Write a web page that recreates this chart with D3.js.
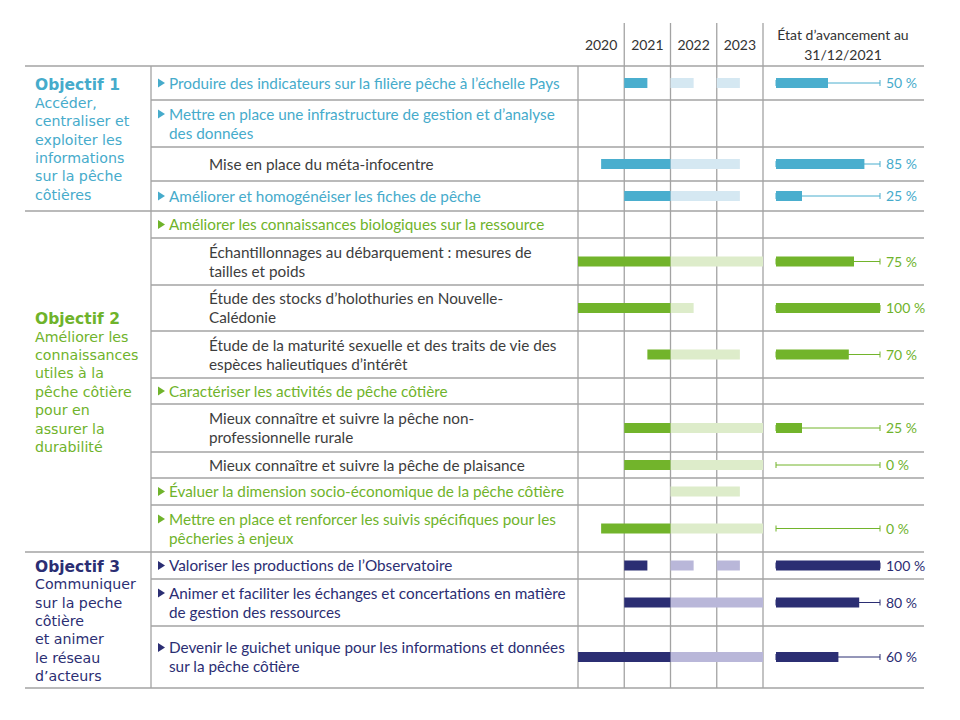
<!DOCTYPE html>
<html><head><meta charset="utf-8">
<script src="https://cdn.jsdelivr.net/npm/d3@7"></script>
<style>body{margin:0;background:#fff}</style>
</head><body><svg id="c" width="960" height="720"></svg>
<script>
// ---------- DATA ----------
const years = ["2020", "2021", "2022", "2023"];
const progressTitle = ["État d’avancement au", "31/12/2021"];
const objectiveTitles = ["Objectif 1", "Objectif 2", "Objectif 3"];
const objectiveLines = [
  ["Accéder,", "centraliser et", "exploiter les", "informations", "sur la pêche", "côtières"],
  ["Améliorer les", "connaissances", "utiles à la", "pêche côtière", "pour en", "assurer la", "durabilité"],
  ["Communiquer", "sur la peche", "côtière", "et animer", "le réseau", "d’acteurs"]
];
const taskLabels = [
  ["Produire des indicateurs sur la filière pêche à l’échelle Pays"],
  ["Mettre en place une infrastructure de gestion et d’analyse", "des données"],
  ["Mise en place du méta-infocentre"],
  ["Améliorer et homogénéiser les fiches de pêche"],
  ["Améliorer les connaissances biologiques sur la ressource"],
  ["Échantillonnages au débarquement : mesures de", "tailles et poids"],
  ["Étude des stocks d’holothuries en Nouvelle-", "Calédonie"],
  ["Étude de la maturité sexuelle et des traits de vie des", "espèces halieutiques d’intérêt"],
  ["Caractériser les activités de pêche côtière"],
  ["Mieux connaître et suivre la pêche non-", "professionnelle rurale"],
  ["Mieux connaître et suivre la pêche de plaisance"],
  ["Évaluer la dimension socio-économique de la pêche côtière"],
  ["Mettre en place et renforcer les suivis spécifiques pour les", "pêcheries à enjeux"],
  ["Valoriser les productions de l’Observatoire"],
  ["Animer et faciliter les échanges et concertations en matière", "de gestion des ressources"],
  ["Devenir le guichet unique pour les informations et données", "sur la pêche côtière"]
];
const taskLevel = [1, 1, 2, 1, 1, 2, 2, 2, 1, 2, 2, 1, 1, 1, 1, 1];
const taskObjective = [0, 0, 0, 0, 1, 1, 1, 1, 1, 1, 1, 1, 1, 2, 2, 2];
// achieved period (dark) per task
const doneSpans = [
  [[2021, 2021.5]], [], [[2020.5, 2022]], [[2021, 2022]],
  [], [[2020, 2022]], [[2020, 2022]], [[2021.5, 2022]],
  [], [[2021, 2022]], [[2021, 2022]], [],
  [[2020.5, 2022]], [[2021, 2021.5]], [[2021, 2022]], [[2020, 2022]]
];
// planned period (light) per task
const plannedSpans = [
  [[2022, 2022.5], [2023, 2023.5]], [], [[2022, 2023.5]], [[2022, 2023.5]],
  [], [[2022, 2024]], [[2022, 2022.5]], [[2022, 2023.5]],
  [], [[2022, 2024]], [[2022, 2024]], [[2022, 2023.5]],
  [[2022, 2024]], [[2022, 2022.5], [2023, 2023.5]], [[2022, 2024]], [[2022, 2024]]
];
const progress = [50, null, 85, 25, null, 75, 100, 70, null, 25, 0, null, 0, 100, 80, 60];

// ---------- STYLE / LAYOUT ----------
const darkColor = ["#4aaece", "#72b42b", "#2b2e73"];
const lightColor = ["#d5e8f2", "#ddecca", "#b9b7d9"];
const textColor = ["#46abcb", "#6fb32b", "#2b2e73"];
const subTextColor = "#3d3d3d";
const gridColor = "#a3a3a3";
const rowHeights = [34, 47, 34, 30, 27, 47, 46, 47, 26, 48, 26, 27, 47, 27, 47, 62];
const L = {left: 25, col1: 151, right: 924, top: 66, headTop: 23};
const font = "Lato, 'Open Sans', sans-serif";
const titleFont = "'DejaVu Sans', Lato, sans-serif";

const svg = d3.select("#c");
const x = d3.scaleLinear().domain([2020, 2024]).range([578, 763]);
const px = d3.scaleLinear().domain([0, 100]).range([776, 880]);

const rowTops = [L.top];
rowHeights.forEach(h => rowTops.push(rowTops[rowTops.length - 1] + h));
const bottom = rowTops[rowTops.length - 1];
const rowCenter = i => (rowTops[i] + rowTops[i + 1]) / 2;

// ---------- GRID ----------
const g = svg.append("g");
rowTops.forEach((y, i) => {
  const fullWidth = i === 0 || i === rowTops.length - 1 ||
    (i < taskObjective.length && taskObjective[i] !== taskObjective[i - 1]);
  g.append("line").attr("x1", fullWidth ? L.left : L.col1).attr("x2", L.right)
    .attr("y1", y).attr("y2", y).attr("stroke", gridColor).attr("stroke-width", 1.3);
});
g.append("line").attr("x1", L.col1).attr("x2", L.col1).attr("y1", L.top).attr("y2", bottom)
  .attr("stroke", gridColor).attr("stroke-width", 1.3);
const yearEdges = d3.range(2020, 2025);
yearEdges.forEach((yr, i) => {
  g.append("line").attr("x1", x(yr)).attr("x2", x(yr))
    .attr("y1", i === 0 ? L.top : L.headTop).attr("y2", bottom)
    .attr("stroke", gridColor).attr("stroke-width", 1.3);
});

// ---------- HEADER ----------
svg.append("g").selectAll("text").data(years).join("text")
  .attr("x", d => x(+d + 0.5)).attr("y", 50).attr("text-anchor", "middle")
  .attr("font-family", font).attr("font-size", 14).attr("fill", "#333").text(d => d);
svg.append("g").selectAll("text").data(progressTitle).join("text")
  .attr("x", 843).attr("y", (d, i) => 40 + i * 19.5).attr("text-anchor", "middle")
  .attr("font-family", font).attr("font-size", 14).attr("fill", "#333").text(d => d);

// ---------- OBJECTIVES (left column) ----------
objectiveTitles.forEach((t, k) => {
  const idx = taskObjective.map((o, i) => o === k ? i : -1).filter(i => i >= 0);
  const y0 = rowTops[idx[0]], y1 = rowTops[idx[idx.length - 1] + 1];
  const n = objectiveLines[k].length + 1, lh = 18.4;
  const start = (y0 + y1) / 2 - (n - 1) * lh / 2;
  const gt = svg.append("g").attr("fill", textColor[k]);
  gt.append("text").attr("x", 35).attr("y", start + 7).attr("font-family", titleFont)
    .attr("font-weight", "bold").attr("font-size", 15.5).text(t);
  objectiveLines[k].forEach((l, j) => {
    gt.append("text").attr("x", 35).attr("y", start + (j + 1) * lh + 6)
      .attr("font-family", titleFont).attr("font-size", 14.2).text(l);
  });
});

// ---------- TASK LABELS ----------
taskLabels.forEach((lines, i) => {
  const k = taskObjective[i];
  const lvl = taskLevel[i];
  const c = rowCenter(i);
  const lh = 19;
  const first = c - (lines.length - 1) * lh / 2;
  const gx = lvl === 1 ? 169 : 209;
  const col = lvl === 1 ? textColor[k] : subTextColor;
  if (lvl === 1) {
    svg.append("path").attr("d", `M158,${first - 4.5}L165,${first}L158,${first + 4.5}Z`)
      .attr("fill", textColor[k]);
  }
  lines.forEach((l, j) => {
    svg.append("text").attr("x", gx).attr("y", first + j * lh + 5.5)
      .attr("font-family", font).attr("font-size", 15.3).attr("fill", col).text(l);
  });
});

// ---------- GANTT BARS ----------
const bh = 10;
const ganttG = svg.append("g");
plannedSpans.forEach((spans, i) => {
  ganttG.selectAll(null).data(spans).join("rect")
    .attr("x", d => x(d[0])).attr("width", d => x(d[1]) - x(d[0]))
    .attr("y", rowCenter(i) - bh / 2).attr("height", bh)
    .attr("fill", lightColor[taskObjective[i]]);
});
doneSpans.forEach((spans, i) => {
  ganttG.selectAll(null).data(spans).join("rect")
    .attr("x", d => x(d[0])).attr("width", d => x(d[1]) - x(d[0]))
    .attr("y", rowCenter(i) - bh / 2).attr("height", bh)
    .attr("fill", darkColor[taskObjective[i]]);
});

// ---------- PROGRESS ----------
progress.forEach((v, i) => {
  if (v === null) return;
  const k = taskObjective[i], c = rowCenter(i);
  const pg = svg.append("g");
  pg.append("line").attr("x1", px(0)).attr("x2", px(100)).attr("y1", c).attr("y2", c)
    .attr("stroke", darkColor[k]).attr("stroke-width", 1);
  [0, 100].forEach(e => pg.append("line").attr("x1", px(e)).attr("x2", px(e))
    .attr("y1", c - 3).attr("y2", c + 3).attr("stroke", darkColor[k]).attr("stroke-width", 1));
  pg.append("rect").attr("x", px(0)).attr("width", px(v) - px(0))
    .attr("y", c - bh / 2).attr("height", bh).attr("fill", darkColor[k]);
  pg.append("text").attr("x", 886).attr("y", c + 5).attr("font-family", font)
    .attr("font-size", 14).attr("fill", textColor[k]).text(v + " %");
});
</script>
</body></html>
